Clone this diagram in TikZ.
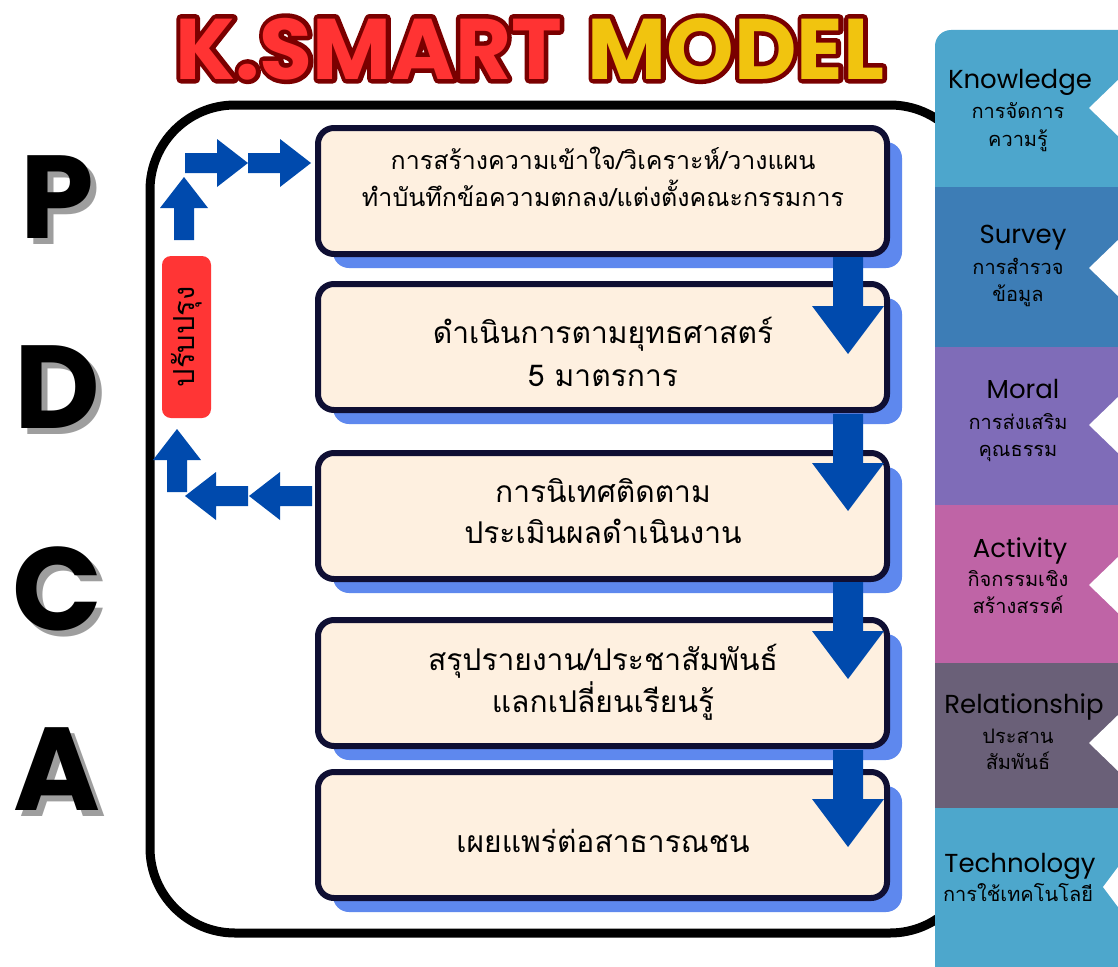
\documentclass[tikz,border=0pt]{standalone}
\usepackage{fontspec}
\usetikzlibrary{shadows,calc}
\newfontfamily\thai[Script=Thai]{Loma}
\newfontfamily\pop{Poppins}
\definecolor{ablue}{HTML}{004AAD}
\definecolor{sblue}{HTML}{5E88EE}
\definecolor{bfill}{HTML}{FEF0E0}
\definecolor{bline}{HTML}{0F0F33}
\definecolor{tred}{HTML}{FF3333}
\definecolor{tdark}{HTML}{7A0000}
\definecolor{tyel}{HTML}{F1C40F}
\definecolor{colK}{HTML}{4DA6CC}
\definecolor{colS}{HTML}{3D7DB6}
\definecolor{colM}{HTML}{7F6CB8}
\definecolor{colA}{HTML}{BF64A6}
\definecolor{colR}{HTML}{6A6078}
\definecolor{colT}{HTML}{4DA7CC}
\definecolor{impred}{HTML}{FF3535}
\definecolor{pshadow}{HTML}{9E9E9E}
\newcommand\ttl[2]{\pop\bfseries\fontsize{86}{86}\selectfont\textcolor{#1}{K.SMART}\hspace{0.3em}\textcolor{#2}{MODEL}}
\newcommand\strokeon{\special{pdf:literal direct 1 Tr 9 w 1 j}}
\newcommand\strokeoff{\special{pdf:literal direct 0 Tr}}
\newcommand\shadowed[1]{\rlap{\hspace{6pt}\raisebox{-6pt}{\textcolor{pshadow}{#1}}}#1}
\begin{document}
\begin{tikzpicture}[x=1pt,y=-1pt,
  stepbox/.style={draw=bline, line width=6pt, fill=bfill, rounded corners=16pt,
    minimum width=569pt, minimum height=126pt, inner sep=0pt,
    general shadow={fill=sblue, shadow xshift=15pt, shadow yshift=-14pt}},
  boxtext/.style={anchor=base, inner sep=0pt, font=\thai\fontsize{30}{34}\selectfont},
  boxtexts/.style={anchor=base, inner sep=0pt, font=\thai\fontsize{25}{28}\selectfont},
  tabtitle/.style={anchor=base, inner sep=0pt, font=\pop\fontsize{26}{30}\selectfont},
  tabthai/.style={anchor=base, inner sep=0pt, font=\thai\fontsize{20}{23}\selectfont},
  pdca/.style={anchor=base, inner sep=0pt, font=\pop\bfseries\fontsize{118}{118}\selectfont},
  notch/.style={fill=white},
  bigarrow/.pic={\fill[ablue] (-15,0) -- (15,0) -- (15,49) -- (36,49) -- (0,97) -- (-36,49) -- (-15,49) -- cycle;},
  smallarrow/.pic={\fill[ablue] (-10,0) -- (10,0) -- (10,32) -- (24,32) -- (0,63) -- (-24,32) -- (-10,32) -- cycle;}
]
\useasboundingbox[fill=white] (0,0) rectangle (1118,966);

% title: stroked outline layer, then filled text
\node[anchor=base, inner sep=0pt] (ttlo) at (530,79) {\strokeon\ttl{tdark}{tdark}\strokeoff};
\node[anchor=base, inner sep=0pt] (title) at (530,79) {\ttl{tred}{tyel}};

% frame
\node[draw=black, line width=9pt, rounded corners=85pt, minimum width=825pt,
      minimum height=828pt, inner sep=0pt] (frame) at (562.5,519) {};

% PDCA letters with grey shadow
\node[pdca] (P) at (57,238) {\shadowed{P}};
\node[pdca] (D) at (57,428) {\shadowed{D}};
\node[pdca] (C) at (57,630) {\shadowed{C}};
\node[pdca] (A) at (57,810) {\shadowed{A}};

% step boxes
\node[stepbox] (b1) at (602.5,191) {};
\node[stepbox] (b2) at (602.5,347) {};
\node[stepbox] (b3) at (602.5,516) {};
\node[stepbox] (b4) at (602.5,683) {};
\node[stepbox] (b5) at (602.5,835) {};

\node[boxtexts] (t1a) at (603,169) {การสร้างความเข้าใจ/วิเคราะห์/วางแผน};
\node[boxtexts] (t1b) at (603,206) {ทำบันทึกข้อความตกลง/แต่งตั้งคณะกรรมการ};
\node[boxtext] (t2a) at (603,343) {ดำเนินการตามยุทธศาสตร์};
\node[boxtext] (t2b) at (603,386) {5 มาตรการ};
\node[boxtext] (t3a) at (603,502) {การนิเทศติดตาม};
\node[boxtext] (t3b) at (603,543) {ประเมินผลดำเนินงาน};
\node[boxtext] (t4a) at (603,670) {สรุปรายงาน/ประชาสัมพันธ์};
\node[boxtext] (t4b) at (603,712) {แลกเปลี่ยนเรียนรู้};
\node[boxtext] (t5) at (603,852) {เผยแพร่ต่อสาธารณชน};

% down arrows between steps
\coordinate (d1) at (848,257);
\coordinate (d2) at (848,414);
\coordinate (d3) at (848,582);
\coordinate (d4) at (848,750);
\foreach \c in {d1,d2,d3,d4} \pic at (\c) {bigarrow};

% improve loop
\node[fill=impred, rounded corners=9pt, rotate=90, minimum width=162pt,
      minimum height=49pt, inner sep=0pt, font=\thai\fontsize{29}{29}\selectfont]
      (imp) at (186.5,337) {ปรับปรุง};
\coordinate (l1) at (312,496);
\coordinate (l2) at (248,496);
\coordinate (u2) at (177,492);
\coordinate (u1) at (184,240);
\coordinate (r1) at (185,163);
\coordinate (r2) at (248,163);
\pic[rotate=-90] at (l1) {smallarrow};
\pic[rotate=-90] at (l2) {smallarrow};
\pic[rotate=180] at (u2) {smallarrow};
\pic[rotate=180] at (u1) {smallarrow};
\pic[rotate=90] at (r1) {smallarrow};
\pic[rotate=90] at (r2) {smallarrow};

% right tabs
\fill[colK, rounded corners=16pt] (935,30) rectangle (1160,210);
\fill[colS] (935,187) rectangle (1160,347);
\fill[colM] (935,347) rectangle (1160,505);
\fill[colA] (935,505) rectangle (1160,663);
\fill[colR] (935,663) rectangle (1160,808);
\fill[colT] (935,808) rectangle (1160,990);
\foreach \y in {108,268,425,585,743}
  \fill[notch] (1118,\y-28) -- (1089,\y) -- (1118,\y+28) -- cycle;
\fill[notch] (1118,867) -- (1103,887) -- (1118,907) -- cycle;

\node[tabtitle] (k1) at (1020,88) {Knowledge};
\node[tabthai] (k2) at (1018,118) {การจัดการ};
\node[tabthai] (k3) at (1018,146) {ความรู้};
\node[tabtitle] (s1) at (1023,243) {Survey};
\node[tabthai] (s2) at (1018,274) {การสำรวจ};
\node[tabthai] (s3) at (1018,301) {ข้อมูล};
\node[tabtitle] (m1) at (1023,398) {Moral};
\node[tabthai] (m2) at (1018,429) {การส่งเสริม};
\node[tabthai] (m3) at (1018,456) {คุณธรรม};
\node[tabtitle] (a1) at (1020,557) {Activity};
\node[tabthai] (a2) at (1018,586) {กิจกรรมเชิง};
\node[tabthai] (a3) at (1018,613) {สร้างสรรค์};
\node[tabtitle] (rl1) at (1024,713) {Relationship};
\node[tabthai] (rl2) at (1018,743) {ประสาน};
\node[tabthai] (rl3) at (1018,769) {สัมพันธ์};
\node[tabtitle] (te1) at (1020,872) {Technology};
\node[tabthai] (te2) at (1018,901) {การใช้เทคโนโลยี};
\end{tikzpicture}
\end{document}
